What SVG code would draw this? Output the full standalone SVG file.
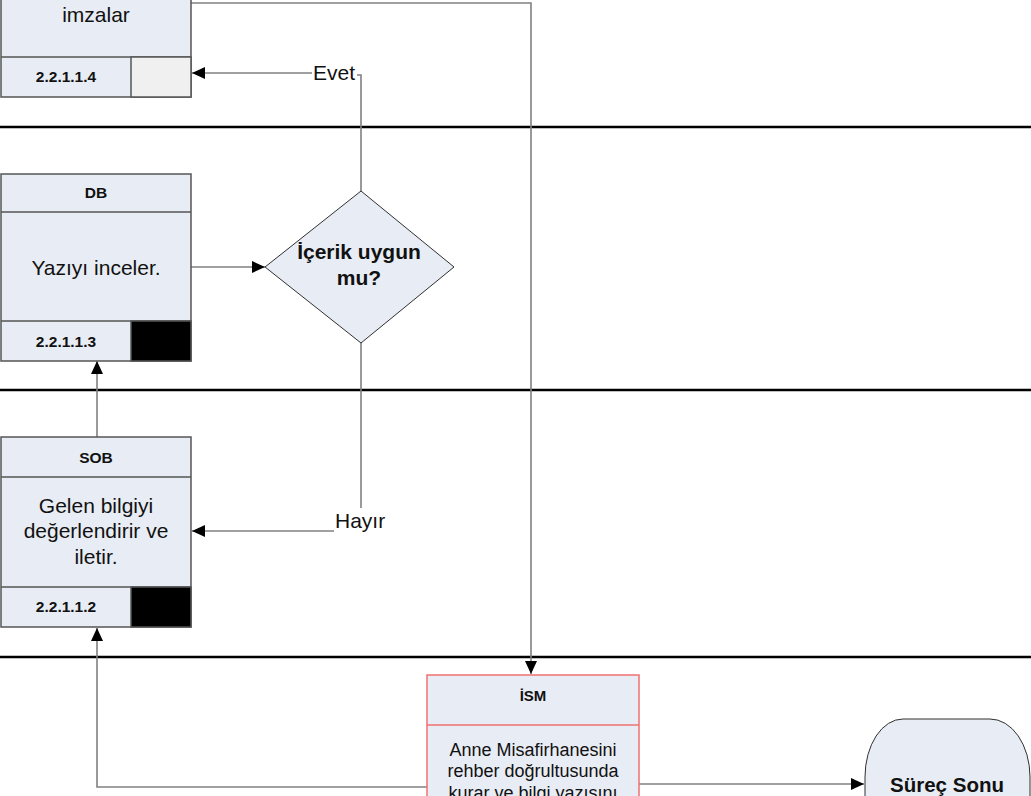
<svg xmlns="http://www.w3.org/2000/svg" width="1031" height="796" viewBox="0 0 1031 796">
<defs>
<style>
.box{fill:#E8ECF4;stroke:#555;stroke-width:1.5}
.red{fill:#E8ECF4;stroke:#F07070;stroke-width:1.5}
.lane{stroke:#000;stroke-width:2.5}
.conn{fill:none;stroke:#808080;stroke-width:1.6}
.t{font-family:"Liberation Sans",Arial,sans-serif;fill:#111;text-anchor:middle}
.n{font-size:21px}
.b{font-weight:bold;font-size:15.5px}
.d{font-weight:bold;font-size:21px}
.l{font-family:"Liberation Sans",Arial,sans-serif;fill:#111;font-size:21px}
</style>
<marker id="ar" markerWidth="13" markerHeight="12" refX="13" refY="6" orient="auto" markerUnits="userSpaceOnUse">
<path d="M0,0 L13,6 L0,12 Z" fill="#000"/>
</marker>
</defs>
<rect width="1031" height="796" fill="#fff"/>
<g id="lanes">
<line class="lane" x1="0" y1="127" x2="1031" y2="127"/>
<line class="lane" x1="0" y1="390" x2="1031" y2="390"/>
<line class="lane" x1="0" y1="657" x2="1031" y2="657"/>
</g>
<g id="connectors">
<path class="conn" d="M191,3 H531 V674" marker-end="url(#ar)"/>
<path class="conn" d="M361,191 V75 H357"/>
<path class="conn" d="M312,73 H192" marker-end="url(#ar)"/>
<path class="conn" d="M191,267 H265" marker-end="url(#ar)"/>
<path class="conn" d="M361,343 V508"/>
<path class="conn" d="M334,531 H192" marker-end="url(#ar)"/>
<path class="conn" d="M97,437 V361" marker-end="url(#ar)"/>
<path class="conn" d="M437,787 H97 V628" marker-end="url(#ar)"/>
<path class="conn" d="M639,784 H864" marker-end="url(#ar)"/>
<text class="l" x="313" y="80">Evet</text>
<text class="l" x="335" y="528">Hayır</text>
</g>
<g id="n2_2_1_1_4">
<rect class="box" x="1" y="-20" width="190" height="117"/>
<line class="box" x1="1" y1="57" x2="191" y2="57"/>
<rect x="131" y="57" width="60" height="40" fill="#F0F0F0" stroke="#555" stroke-width="1.5"/>
<text class="t n" x="96" y="22">imzalar</text>
<text class="t b" x="66" y="82">2.2.1.1.4</text>
</g>
<g id="n2_2_1_1_3">
<rect class="box" x="1" y="174" width="190" height="187"/>
<line class="box" x1="1" y1="212" x2="191" y2="212"/>
<line class="box" x1="1" y1="321" x2="191" y2="321"/>
<rect x="131" y="321" width="60" height="40" fill="#000" stroke="#555" stroke-width="1.5"/>
<text class="t b" x="96" y="198">DB</text>
<text class="t n" x="96" y="275">Yazıyı inceler.</text>
<text class="t b" x="66" y="347">2.2.1.1.3</text>
</g>
<g id="decision">
<polygon points="361,191 454,267 361,343 265,267" fill="#E8ECF4" stroke="#303030" stroke-width="1"/>
<text class="t d" x="359" y="259">İçerik uygun</text>
<text class="t d" x="359" y="285">mu?</text>
</g>
<g id="n2_2_1_1_2">
<rect class="box" x="1" y="437" width="190" height="190"/>
<line class="box" x1="1" y1="477" x2="191" y2="477"/>
<line class="box" x1="1" y1="587" x2="191" y2="587"/>
<rect x="131" y="587" width="60" height="40" fill="#000" stroke="#555" stroke-width="1.5"/>
<text class="t b" x="96" y="463">SOB</text>
<text class="t n" x="96" y="513">Gelen bilgiyi</text>
<text class="t n" x="96" y="538">değerlendirir ve</text>
<text class="t n" x="96" y="564">iletir.</text>
<text class="t b" x="66" y="612">2.2.1.1.2</text>
</g>
<g id="ism">
<rect class="red" x="427" y="675" width="212" height="140"/>
<line class="red" x1="427" y1="725" x2="639" y2="725"/>
<text class="t" style="font-weight:bold;font-size:15px" x="533" y="701">İSM</text>
<text class="t" style="font-size:18px" x="533" y="756">Anne Misafirhanesini</text>
<text class="t" style="font-size:18px" x="533" y="777">rehber doğrultusunda</text>
<text class="t" style="font-size:18px" x="533" y="799">kurar ve bilgi yazısını</text>
</g>
<g id="surec_sonu">
<path d="M903,719 H990 A40,58 0 0 1 1030,777 V830 H865 V777 A38,58 0 0 1 903,719 Z" fill="#E8ECF4" stroke="#303030" stroke-width="1"/>
<text class="t" style="font-weight:bold;font-size:20.5px" x="947" y="792">Süreç Sonu</text>
</g>
</svg>
